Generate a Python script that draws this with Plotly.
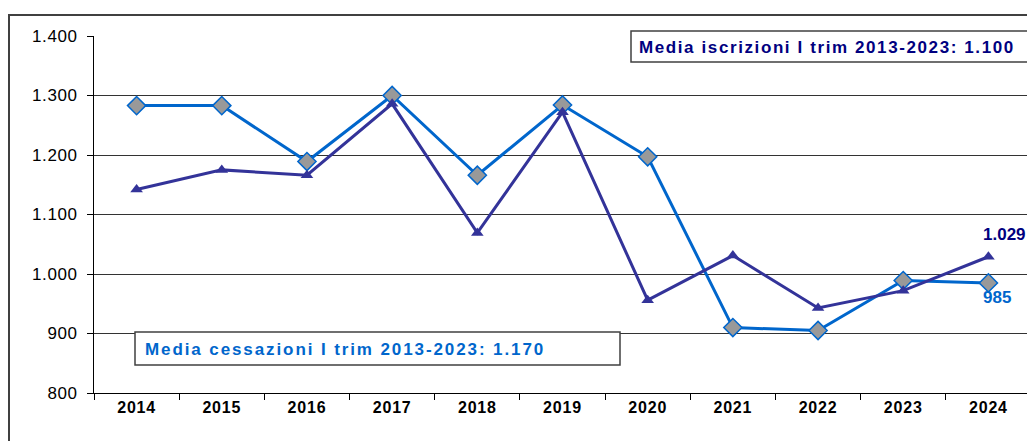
import plotly.graph_objects as go

years = ["2014", "2015", "2016", "2017", "2018", "2019", "2020", "2021", "2022", "2023", "2024"]
iscrizioni = [1142, 1175, 1166, 1286, 1069, 1272, 956, 1031, 943, 972, 1029]
cessazioni = [1283, 1283, 1189, 1300, 1166, 1284, 1197, 910, 905, 989, 985]
y_ticks = [800, 900, 1000, 1100, 1200, 1300, 1400]
y_tick_labels = ["800", "900", "1.000", "1.100", "1.200", "1.300", "1.400"]
label_iscr = "Media iscrizioni I trim 2013-2023: 1.100"
label_cess = "Media cessazioni I trim 2013-2023: 1.170"

# page offset (default body margin of the html page)
OFF = 8
W, H = 1035 - OFF, 441 - OFF
# plot area in page pixels
L, R, T, B = 94, 1031, 36, 393
pw, ph = R - L, B - T

def px(x):
    return (x - L) / pw

def py(y):
    return (B - y) / ph

NAVY = "#333399"
BLUE = "#0066CC"
FONT = "Liberation Sans, Arial, sans-serif"

def spaced(t, sp):
    return f'<span style="letter-spacing:{sp}px">{t}</span>'

fig = go.Figure()
fig.add_trace(go.Scatter(
    x=years, y=cessazioni, mode="lines+markers", name="Cessazioni",
    line=dict(color=BLUE, width=3),
    marker=dict(symbol="diamond", size=14, color="#999999", line=dict(color=BLUE, width=1.5)),
    cliponaxis=False,
))
fig.add_trace(go.Scatter(
    x=years, y=iscrizioni, mode="lines+markers", name="Iscrizioni",
    line=dict(color=NAVY, width=3),
    marker=dict(symbol="triangle-up", size=11, color=NAVY, line=dict(width=0)),
    cliponaxis=False,
))

shapes = [
    # outer frame
    dict(type="rect", xref="paper", yref="paper", x0=px(9), x1=px(1045), y0=py(455), y1=py(15),
         line=dict(color="#404040", width=2), fillcolor="rgba(0,0,0,0)", layer="below"),
    # right border of plot area
    dict(type="line", xref="paper", yref="paper", x0=1, x1=1, y0=0, y1=1,
         line=dict(color="#333333", width=1)),
    # label boxes
    dict(type="rect", xref="paper", yref="paper", x0=px(631), x1=px(1028), y0=py(62), y1=py(31),
         line=dict(color="#404040", width=1.5), fillcolor="white", layer="above"),
    dict(type="rect", xref="paper", yref="paper", x0=px(135), x1=px(620), y0=py(365), y1=py(332),
         line=dict(color="#404040", width=1.5), fillcolor="white", layer="above"),
]

annotations = [
    dict(xref="paper", yref="paper", x=px(637), y=py(47), xanchor="left", yanchor="middle",
         text="<b>" + spaced(label_iscr, 1.6) + "</b>", showarrow=False,
         font=dict(family=FONT, size=17, color="#000080")),
    dict(xref="paper", yref="paper", x=px(143), y=py(349), xanchor="left", yanchor="middle",
         text="<b>" + spaced(label_cess, 1.9) + "</b>", showarrow=False,
         font=dict(family=FONT, size=17, color=BLUE)),
    dict(xref="paper", yref="paper", x=px(1004), y=py(234), xanchor="center", yanchor="middle",
         text="<b>1.029</b>", showarrow=False,
         font=dict(family=FONT, size=17, color="#000080")),
    dict(xref="paper", yref="paper", x=px(997), y=py(297), xanchor="center", yanchor="middle",
         text="<b>985</b>", showarrow=False,
         font=dict(family=FONT, size=17, color=BLUE)),
]

fig.update_layout(
    width=W, height=H,
    margin=dict(l=L - OFF, r=1035 - R, t=T - OFF, b=441 - B, pad=0),
    paper_bgcolor="white", plot_bgcolor="white",
    showlegend=False,
    shapes=shapes, annotations=annotations,
    font=dict(family=FONT, color="black"),
    xaxis=dict(
        type="category", range=[-0.5, 10.5], tickson="boundaries",
        ticks="outside", ticklen=6, tickcolor="black", tickwidth=1,
        showline=True, linecolor="black", linewidth=1,
        showgrid=False, zeroline=False,
        tickvals=years, ticktext=["<b>" + spaced(y, 0.8) + "</b>" for y in years],
        tickfont=dict(family=FONT, size=16, color="black"),
    ),
    yaxis=dict(
        range=[800, 1400], tickvals=y_ticks, ticktext=[spaced(t, 0.6) for t in y_tick_labels],
        ticks="outside", ticklen=6, tickcolor="black", tickwidth=1,
        showline=True, linecolor="black", linewidth=1,
        showgrid=True, gridcolor="#333333", gridwidth=1, zeroline=False,
        tickfont=dict(family=FONT, size=17, color="black"),
        ticklabelstandoff=6,
    ),
)

fig.write_html("out.html")
